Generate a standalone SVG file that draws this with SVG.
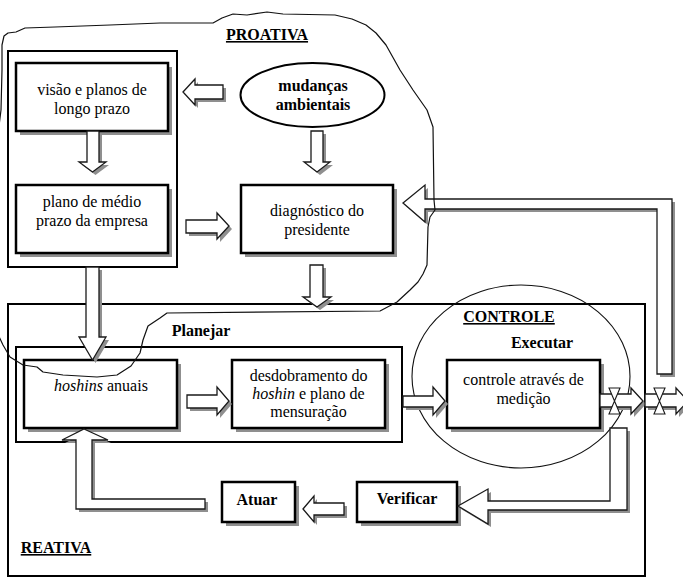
<svg xmlns="http://www.w3.org/2000/svg" xmlns:xlink="http://www.w3.org/1999/xlink" width="683" height="579" viewBox="0 0 683 579" font-family="'Liberation Serif', 'DejaVu Serif', serif">
<style>
.bg{fill:#fff}
.box{fill:#fff;stroke:#000;stroke-width:2.5}
.sh{fill:#8f8f8f}
.frame{fill:none;stroke:#000;stroke-width:2}
.arr{fill:#fff;stroke:#1a1a1a;stroke-width:1.3;stroke-linejoin:miter}
.ash{fill:#8f8f8f;stroke:none}
.valve{fill:#fff;stroke:#1a1a1a;stroke-width:1.1}
.t{font-family:'Liberation Serif', 'DejaVu Serif', serif;font-size:16px;fill:#000;text-anchor:middle}
.b{font-weight:bold}
.u{text-decoration:underline}
.cloud{fill:none;stroke:#111;stroke-width:1.2;stroke-linejoin:round}
</style>
<defs>
<polygon id="a1" points="183,92 195,79 195,85 223,85 223,99 195,99 195,105"/>
<polygon id="a2" points="87,131 99,131 99,162 106,162 92.5,172 79,162 87,162"/>
<polygon id="a3" points="311,131 323,131 323,162 330,162 317,172 304,162 311,162"/>
<polygon id="a4" points="186,220 217,220 217,213 229,226 217,239 217,233 186,233"/>
<polygon id="a5" points="310,265 323,265 323,297 331,297 317,307 303,297 310,297"/>
<polygon id="a6" points="86,267 99,267 99,337 106,337 92.5,360 79,337 86,337"/>
<polygon id="a7" points="187,395 217,395 217,387 229,401 217,415 217,408 187,408"/>
<polygon id="a8" points="403,396 433,396 433,387 445,401 433,415 433,407 403,407"/>
<polygon id="a9" points="600,394 631,394 631,388 643,401 631,414 631,407 600,407"/>
<polygon id="a10" points="645,394 676,394 676,388 688,401 676,414 676,407 645,407"/>
<polygon id="a11" points="403,203 425,185 425,199 672,199 672,374 657,374 657,209 425,209 425,222"/>
<polygon id="a12" points="610,428 627,428 627,510 488,510 488,524 458,506 488,489 488,501 610,501"/>
<polygon id="a13" points="303,509 314,496 314,503 344,503 344,515 314,515 314,522"/>
<polygon id="a14" points="84,429 108,440 92,440 92,499 205,499 205,509 76,509 76,440 62,440"/>
</defs>
<rect class="bg" x="0" y="0" width="683" height="579"/>

<g id="reativa">
<rect class="frame" x="8" y="304" width="637" height="272"/>
<text class="t b u" x="56" y="553" font-family="'Liberation Serif', serif">REATIVA</text>
</g>

<g id="proativa-planos">
<rect class="frame" x="8" y="51" width="169" height="216"/>
</g>

<g id="planejar">
<rect class="frame" x="16" y="347" width="386" height="95"/>
<text class="t b" x="201" y="336">Planejar</text>
</g>

<g id="controle-area">
<ellipse cx="521" cy="376.5" rx="109" ry="91.5" fill="none" stroke="#111" stroke-width="1.1"/>
<text class="t b u" x="509" y="322">CONTROLE</text>
<text class="t b" x="542" y="348">Executar</text>
</g>

<g id="visao">
<rect class="sh" x="20" y="67" width="152" height="68"/>
<rect class="box" x="16" y="63" width="152" height="68"/>
<text class="t" x="92" y="95">visão e planos de</text>
<text class="t" x="92" y="113.5">longo prazo</text>
</g>

<g id="plano-medio">
<rect class="sh" x="20" y="189" width="152" height="68"/>
<rect class="box" x="16" y="185" width="152" height="68"/>
<text class="t" x="92" y="207">plano de médio</text>
<text class="t" x="92" y="225.5">prazo da empresa</text>
</g>

<g id="mudancas">
<ellipse cx="312.5" cy="95" rx="72" ry="32" fill="#fff" stroke="#000" stroke-width="2"/>
<text class="t b" x="313" y="91">mudanças</text>
<text class="t b" x="313" y="109.5">ambientais</text>
</g>

<g id="diagnostico">
<rect class="sh" x="245" y="189" width="152" height="68"/>
<rect class="box" x="241" y="185" width="152" height="68"/>
<text class="t" x="317" y="216">diagnóstico do</text>
<text class="t" x="317" y="234.5">presidente</text>
</g>

<g id="hoshins">
<rect class="sh" x="28" y="364" width="153" height="68"/>
<rect class="box" x="24" y="360" width="153" height="68"/>
<text class="t" x="101" y="391"><tspan font-style="italic">hoshins</tspan> anuais</text>
</g>

<g id="desdobramento">
<rect class="sh" x="236" y="364" width="153" height="68"/>
<rect class="box" x="232" y="360" width="153" height="68"/>
<text class="t" x="308.5" y="381">desdobramento do</text>
<text class="t" x="308.5" y="399"><tspan font-style="italic">hoshin</tspan> e plano de</text>
<text class="t" x="308.5" y="417">mensuração</text>
</g>

<g id="controle">
<rect class="sh" x="451" y="364" width="153" height="68"/>
<rect class="box" x="447" y="360" width="153" height="68"/>
<text class="t" x="523.5" y="385">controle através de</text>
<text class="t" x="523.5" y="403.5">medição</text>
</g>

<g id="atuar">
<rect class="sh" x="226" y="486" width="73" height="40"/>
<rect class="box" x="222" y="482" width="73" height="40"/>
<text class="t b" x="257" y="505">Atuar</text>
</g>

<g id="verificar">
<rect class="sh" x="361" y="486" width="100" height="40"/>
<rect class="box" x="357" y="482" width="100" height="40"/>
<text class="t b" x="407" y="504">Verificar</text>
</g>

<g id="connectors">
<g class="ash" transform="translate(3,3)">
<use xlink:href="#a1"/><use xlink:href="#a2"/><use xlink:href="#a3"/><use xlink:href="#a4"/><use xlink:href="#a5"/><use xlink:href="#a6"/><use xlink:href="#a7"/><use xlink:href="#a8"/><use xlink:href="#a9"/><use xlink:href="#a10"/><use xlink:href="#a11"/><use xlink:href="#a12"/><use xlink:href="#a13"/><use xlink:href="#a14"/>
</g>
<g class="arr">
<use xlink:href="#a1"/><use xlink:href="#a2"/><use xlink:href="#a3"/><use xlink:href="#a4"/><use xlink:href="#a5"/><use xlink:href="#a6"/><use xlink:href="#a7"/><use xlink:href="#a8"/><use xlink:href="#a9"/><use xlink:href="#a10"/><use xlink:href="#a11"/><use xlink:href="#a12"/><use xlink:href="#a13"/><use xlink:href="#a14"/>
</g>
<polygon class="valve" points="609,388 620,388 609,414 620,414"/>
<polygon class="valve" points="654,388 665,388 654,414 665,414"/>
</g>

<g id="proativa">
<path class="cloud" d="M -4,150 L 1,110 L 2,70 L 2,45 L 4,36 L 8,33 L 16,32 L 25,28 L 55,27 L 110,25 L 160,23 L 213,23 L 222,18 L 233,14 L 247,15 L 267,12 L 283,14 L 335,15 L 352,19 L 366,25 L 376,33 L 386,45 L 400,70 L 413,90 L 427,110 L 433,127 L 434,200 L 435,210 L 430,217 L 428,227 L 427,265 L 423,274 L 418,282 L 410,290 L 397,302 L 380,311 L 167,313 L 160,318 L 148,326 L 143,340 L 140,353 L 131,366 L 117,375 L 97,377 L 63,375 L 43,372 L 37,367 L 23,365 L 10,357 L 3,345 L -4,330"/>
<text class="t b u" x="267" y="40">PROATIVA</text>
</g>
</svg>
